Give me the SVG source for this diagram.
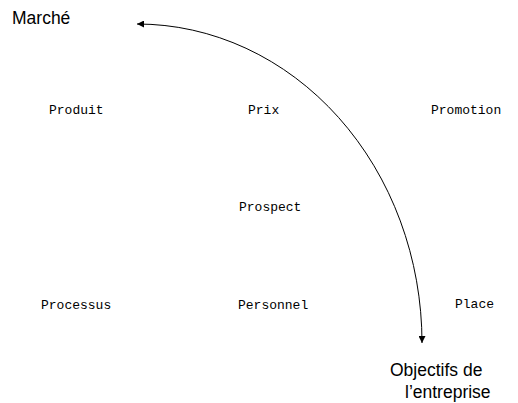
<svg xmlns="http://www.w3.org/2000/svg" width="518" height="403" viewBox="0 0 518 403">
<style>
.m{font-family:"Liberation Mono","Courier New",monospace;font-size:13px;fill:#000}
.s{font-family:"Liberation Sans",Arial,sans-serif;font-size:17.5px;fill:#000}
.c{fill:none;stroke:#000;stroke-width:1}
</style>
<defs>
<marker id="ah" viewBox="0 0 10 10" refX="10" refY="5" markerWidth="8" markerHeight="7" markerUnits="userSpaceOnUse" orient="auto-start-reverse"><path d="M0,0 L10,5 L0,10 z" fill="#000"/></marker>
</defs>
<rect width="518" height="403" fill="#fff"/>
<g id="connectors">
<path class="c" d="M 137 24 A 285 319 0 0 1 422 343" marker-start="url(#ah)" marker-end="url(#ah)"/>
</g>
<g id="marche"><text class="s" x="12" y="24">Marché</text></g>
<g id="produit"><text class="m" x="49" y="114">Produit</text></g>
<g id="prix"><text class="m" x="248" y="114">Prix</text></g>
<g id="promotion"><text class="m" x="431" y="114">Promotion</text></g>
<g id="prospect"><text class="m" x="239" y="211">Prospect</text></g>
<g id="processus"><text class="m" x="41" y="309">Processus</text></g>
<g id="personnel"><text class="m" x="238" y="309">Personnel</text></g>
<g id="place"><text class="m" x="455" y="308">Place</text></g>
<g id="objectifs"><text class="s" x="390" y="376">Objectifs de</text><text class="s" x="405" y="398">l’entreprise</text></g>
</svg>
